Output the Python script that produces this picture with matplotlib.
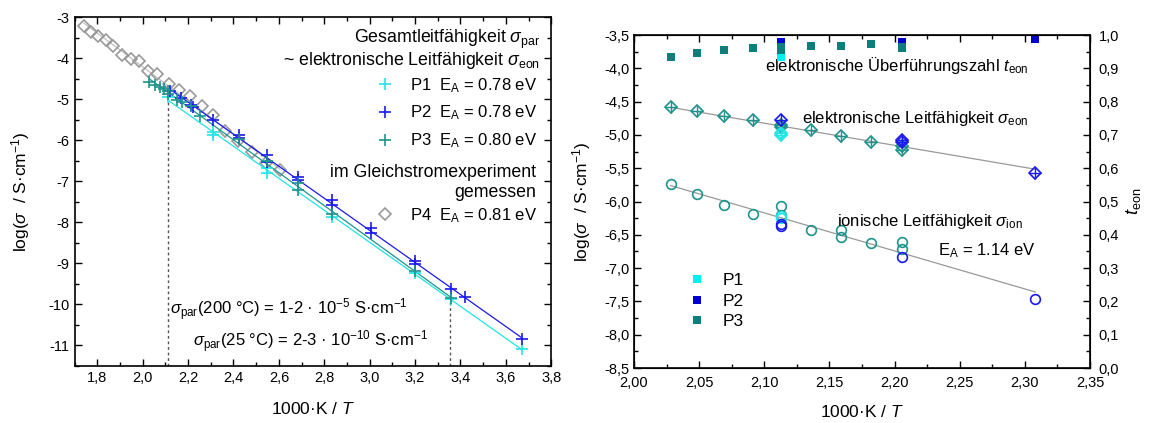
import numpy as np
import matplotlib
matplotlib.use('Agg')
from matplotlib import pyplot as plt
from matplotlib.ticker import MultipleLocator, FuncFormatter

plt.rcParams['font.family'] = ['Liberation Sans', 'DejaVu Sans']
plt.rcParams['mathtext.fontset'] = 'custom'
plt.rcParams['mathtext.rm'] = 'Liberation Sans'
plt.rcParams['mathtext.it'] = 'Liberation Sans:italic'
plt.rcParams['mathtext.default'] = 'regular'

# ---- left panel: total conductivity (Arrhenius) ----
p1_x = [2.113, 2.311, 2.311, 2.546, 2.546, 2.833, 3.199, 3.358, 3.67]
p1_y = [-4.94, -5.79, -5.87, -6.68, -6.80, -7.86, -9.23, -9.88, -11.1]

p2_x = [2.12, 2.17, 2.211, 2.223, 2.311, 2.424, 2.424, 2.546, 2.546, 2.686, 2.686,
        2.833, 2.833, 3.004, 3.004, 3.199, 3.199, 3.358, 3.42, 3.67]
p2_y = [-4.79, -4.98, -5.14, -5.18, -5.5, -5.87, -5.95, -6.36, -6.52, -6.89, -6.97,
        -7.46, -7.58, -8.15, -8.27, -8.94, -9.02, -9.62, -9.83, -10.85]

p3_x = [2.029, 2.054, 2.076, 2.095, 2.113, 2.113, 2.15, 2.172, 2.211, 2.252,
        2.424, 2.546, 2.686, 2.686, 2.833, 3.199, 3.358]
p3_y = [-4.57, -4.65, -4.69, -4.76, -4.81, -4.87, -5.02, -5.06, -5.17, -5.42,
        -5.97, -6.5, -7.05, -7.21, -7.8, -9.2, -9.85]

p4_x = [1.741, 1.772, 1.804, 1.837, 1.871, 1.91, 1.947, 1.985, 2.025, 2.064,
        2.117, 2.161, 2.208, 2.26, 2.311, 2.363, 2.421, 2.48, 2.543, 2.605]
p4_y = [-3.21, -3.35, -3.45, -3.55, -3.69, -3.92, -4.02, -4.07, -4.31, -4.38,
        -4.63, -4.77, -4.91, -5.16, -5.38, -5.77, -6.02, -6.28, -6.56, -6.72]

ea_labels = ['0.78', '0.78', '0.80', '0.81']
temps_c = [200, 25]

# ---- right panel: 2.0-2.35 region ----
t_p1_x = [2.113]
t_p1 = [0.935]
t_p2_x = [2.113, 2.206, 2.308]
t_p2 = [0.98, 0.98, 0.987]
t_p3_x = [2.028, 2.048, 2.069, 2.091, 2.113, 2.113, 2.136, 2.159, 2.182, 2.206, 2.206]
t_p3 = [0.935, 0.947, 0.955, 0.961, 0.955, 0.965, 0.968, 0.967, 0.972, 0.96, 0.965]

eon_p1_x = [2.113, 2.113]
eon_p1 = [-4.97, -5.0]
eon_p2_x = [2.113, 2.206, 2.206, 2.308]
eon_p2 = [-4.77, -5.08, -5.1, -5.565]
eon_p3_x = [2.028, 2.048, 2.069, 2.091, 2.113, 2.113, 2.136, 2.159, 2.182, 2.206, 2.206]
eon_p3 = [-4.575, -4.64, -4.71, -4.775, -4.85, -4.88, -4.93, -5.02, -5.10, -5.17, -5.22]

ion_p1_x = [2.113, 2.113]
ion_p1 = [-6.22, -6.25]
ion_p2_x = [2.113, 2.113, 2.206, 2.308]
ion_p2 = [-6.34, -6.36, -6.83, -7.47]
ion_p3_x = [2.028, 2.048, 2.069, 2.091, 2.113, 2.113, 2.136, 2.159, 2.159, 2.182, 2.206, 2.206]
ion_p3 = [-5.734, -5.89, -6.05, -6.18, -6.07, -6.2, -6.43, -6.43, -6.53, -6.62, -6.61, -6.71]

c1, c2, c3, c4 = '#22e4e4', '#1a1aee', '#1f948c', '#9a9a9a'
sq1, sq2, sq3 = '#00f0f0', '#0000d0', '#0e7e7a'


def comma(fmt):
    return FuncFormatter(lambda v, p: fmt.format(v).replace('.', ','))


def style(ax):
    ax.tick_params(which='both', direction='in', top=True, right=True, labelsize=10.5)
    ax.tick_params(which='major', length=5, width=1)
    ax.tick_params(which='minor', length=3, width=1)
    for s in ax.spines.values():
        s.set_linewidth(1.2)


fig = plt.figure(figsize=(11.53, 4.23), dpi=100)

ax1 = fig.add_axes([0.0647, 0.1352, 0.4134, 0.824])
series = [(p1_x, p1_y, c1), (p2_x, p2_y, c2), (p3_x, p3_y, c3)]
handles = []
for x, y, c in series:
    x = np.array(x)
    k, d = np.polyfit(x, y, 1)
    xs = np.array([x.min(), x.max()])
    ax1.plot(xs, k * xs + d, '-', color=c, lw=0.9, zorder=2)
    h, = ax1.plot(x, y, '+', color=c, ms=9, mew=1.2, zorder=3)
    handles.append(h)
k4, d4 = np.polyfit(p4_x, p4_y, 1)
xs4 = np.array([min(p4_x), max(p4_x)])
ax1.plot(xs4, k4 * xs4 + d4, '-', color='#bbbbbb', lw=0.8, zorder=1)
h4, = ax1.plot(p4_x, p4_y, 'D', mfc='none', mec=c4, ms=6.5, mew=1.2, zorder=1)

# dotted guide lines at 200 °C and 25 °C
k1, d1 = np.polyfit(p1_x, p1_y, 1)
for tc in temps_c:
    xt = 1000.0 / (tc + 273.15)
    ax1.vlines(xt, -11.5, k1 * xt + d1, colors='#555555', linestyles=(0, (2, 2)), lw=1)

ax1.set_xlim(1.7, 3.8)
ax1.set_ylim(-11.5, -3)
ax1.xaxis.set_major_locator(MultipleLocator(0.2))
ax1.xaxis.set_minor_locator(MultipleLocator(0.1))
ax1.yaxis.set_major_locator(MultipleLocator(1))
ax1.yaxis.set_minor_locator(MultipleLocator(0.5))
ax1.xaxis.set_major_formatter(comma('{:.1f}'))
ax1.yaxis.set_major_formatter(comma('{:.0f}'))
style(ax1)
ax1.set_xlabel('1000·K / $\\mathit{T}$', fontsize=12.5, labelpad=12)
ax1.set_ylabel('log($\\mathit{\\sigma}$  / S·cm$^{-1}$)', fontsize=12.5, labelpad=12)

fs = 12
fh = 12.8
ax1.text(0.977, 0.926, 'Gesamtleitfähigkeit $\\mathit{\\sigma}_{par}$', transform=ax1.transAxes,
         ha='right', va='baseline', fontsize=fh)
ax1.text(0.977, 0.863, '~ elektronische Leitfähigkeit $\\mathit{\\sigma}_{eon}$', transform=ax1.transAxes,
         ha='right', va='baseline', fontsize=fh)
ax1.text(0.968, 0.541, 'im Gleichstromexperiment', transform=ax1.transAxes,
         ha='right', va='baseline', fontsize=fh)
ax1.text(0.968, 0.484, 'gemessen', transform=ax1.transAxes,
         ha='right', va='baseline', fontsize=fh)

labels = ['P%d  $E_A$ = %s eV' % (i + 1, ea_labels[i]) for i in range(3)]
leg1 = ax1.legend(handles, labels, loc='center left', bbox_to_anchor=(0.634, 0.725),
                  frameon=False, fontsize=fs, handlelength=1, handletextpad=1.0,
                  labelspacing=0.55, borderpad=0, borderaxespad=0)
ax1.add_artist(leg1)
ax1.legend([h4], ['P4  $E_A$ = %s eV' % ea_labels[3]], loc='center left',
           bbox_to_anchor=(0.634, 0.432), frameon=False, fontsize=fs, handlelength=1,
           handletextpad=1.0, borderpad=0, borderaxespad=0)

ax1.text(0.200, 0.146, '$\\mathit{\\sigma}_{par}$(200 °C) = 1-2 · 10$^{-5}$ S·cm$^{-1}$',
         transform=ax1.transAxes, ha='left', va='baseline', fontsize=fs)
ax1.text(0.248, 0.054, '$\\mathit{\\sigma}_{par}$(25 °C) = 2-3 · 10$^{-10}$ S·cm$^{-1}$',
         transform=ax1.transAxes, ha='left', va='baseline', fontsize=fs)

# ---- right panel ----
ax2 = fig.add_axes([0.5499, 0.130, 0.3955, 0.787])
ax3 = ax2.twinx()

for xs_, ys_ in [(eon_p1_x + eon_p2_x + eon_p3_x, eon_p1 + eon_p2 + eon_p3),
                 (ion_p1_x + ion_p2_x + ion_p3_x, ion_p1 + ion_p2 + ion_p3)]:
    k, d = np.polyfit(xs_, ys_, 1)
    xl = np.array([min(xs_), max(xs_)])
    ax2.plot(xl, k * xl + d, '-', color='#999999', lw=0.9, zorder=1)

for x, y, c in [(eon_p3_x, eon_p3, c3), (eon_p1_x, eon_p1, c1), (eon_p2_x, eon_p2, c2)]:
    ax2.plot(x, y, 'D', mfc='none', mec=c, ms=6.5, mew=1.2, zorder=3)
    ax2.plot(x, y, '+', color=c, ms=8.5, mew=1.0, zorder=3)
for x, y, c in [(ion_p3_x, ion_p3, c3), (ion_p1_x, ion_p1, c1), (ion_p2_x, ion_p2, c2)]:
    ax2.plot(x, y, 'o', mfc='none', mec=c, ms=7, mew=1.2, zorder=3)

sq_handles = []
for x, y, c in [(t_p1_x, t_p1, sq1), (t_p2_x, t_p2, sq2), (t_p3_x, t_p3, sq3)]:
    h, = ax3.plot(x, y, 's', color=c, ms=5.5, mew=0)
    sq_handles.append(h)

ax2.set_xlim(2.0, 2.35)
ax2.set_ylim(-8.5, -3.5)
ax3.set_ylim(0, 1)
ax2.xaxis.set_major_locator(MultipleLocator(0.05))
ax2.xaxis.set_minor_locator(MultipleLocator(0.025))
ax2.yaxis.set_major_locator(MultipleLocator(0.5))
ax2.yaxis.set_minor_locator(MultipleLocator(0.25))
ax3.yaxis.set_major_locator(MultipleLocator(0.1))
ax3.yaxis.set_minor_locator(MultipleLocator(0.05))
ax2.xaxis.set_major_formatter(comma('{:.2f}'))
ax2.yaxis.set_major_formatter(comma('{:.1f}'))
ax3.yaxis.set_major_formatter(comma('{:.1f}'))
style(ax2)
ax2.tick_params(which='both', right=False)
ax2.tick_params(axis='x', pad=6)
ax3.tick_params(which='both', direction='in', labelsize=10.5, pad=6)
ax3.tick_params(which='major', length=5, width=1)
ax3.tick_params(which='minor', length=3, width=1)
ax2.set_xlabel('1000·K / $\\mathit{T}$', fontsize=12.5, labelpad=10)
ax2.set_ylabel('log($\\mathit{\\sigma}$  / S·cm$^{-1}$)', fontsize=12.5, labelpad=8)
ax3.set_ylabel('$\\mathit{t}_{eon}$', fontsize=13, labelpad=4)

fr = 12
ax2.text(0.287, 0.893, 'elektronische Überführungszahl $\\mathit{t}_{eon}$', transform=ax2.transAxes,
         ha='left', va='baseline', fontsize=fr)
ax2.text(0.368, 0.737, 'elektronische Leitfähigkeit $\\mathit{\\sigma}_{eon}$', transform=ax2.transAxes,
         ha='left', va='baseline', fontsize=fr)
ax2.text(0.445, 0.426, 'ionische Leitfähigkeit $\\mathit{\\sigma}_{ion}$', transform=ax2.transAxes,
         ha='left', va='baseline', fontsize=fr)
ax2.text(0.667, 0.339, '$E_A$ = 1.14 eV', transform=ax2.transAxes,
         ha='left', va='baseline', fontsize=fr)

ax3.legend(sq_handles, ['P1', 'P2', 'P3'], loc='center left', bbox_to_anchor=(0.118, 0.201),
           frameon=False, fontsize=12.5, handlelength=1, handletextpad=1.0,
           labelspacing=0.3, borderpad=0, borderaxespad=0)

fig.savefig('out.png', dpi=100)
